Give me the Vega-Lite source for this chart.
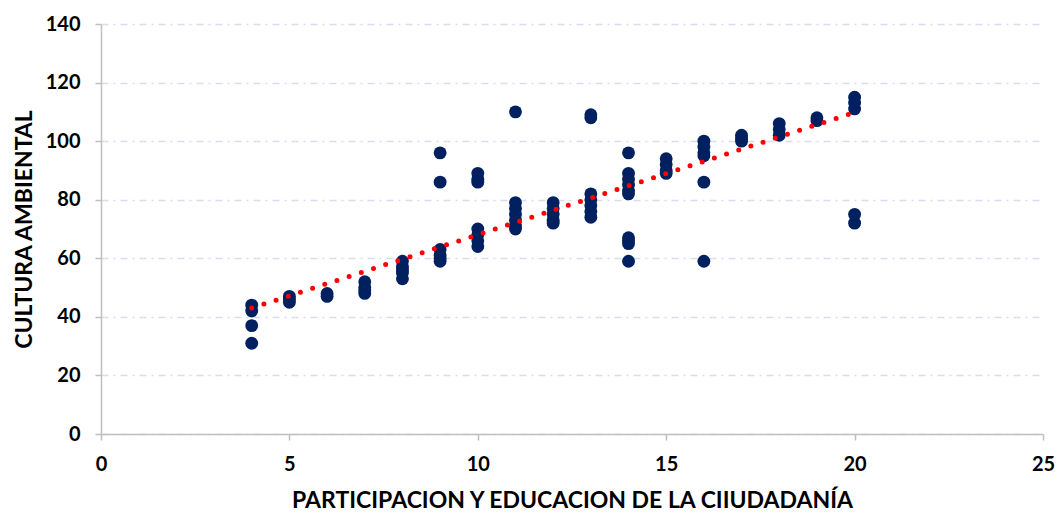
{
  "$schema": "https://vega.github.io/schema/vega-lite/v6.json",
  "width": 942,
  "height": 410,
  "autosize": {"type": "none"},
  "padding": {"left": 101, "top": 24, "right": 14, "bottom": 79},
  "background": "white",
  "config": {"view": {"stroke": null}, "font": "Lato"},
  "datasets": {
    "pts": [
      {"p": 4, "c": 44}, {"p": 4, "c": 42}, {"p": 4, "c": 37}, {"p": 4, "c": 31},
      {"p": 5, "c": 47}, {"p": 5, "c": 46}, {"p": 5, "c": 45},
      {"p": 6, "c": 48}, {"p": 6, "c": 47},
      {"p": 7, "c": 52}, {"p": 7, "c": 50}, {"p": 7, "c": 49}, {"p": 7, "c": 48},
      {"p": 8, "c": 59}, {"p": 8, "c": 57}, {"p": 8, "c": 56}, {"p": 8, "c": 55}, {"p": 8, "c": 53},
      {"p": 9, "c": 63}, {"p": 9, "c": 61}, {"p": 9, "c": 60}, {"p": 9, "c": 59}, {"p": 9, "c": 86}, {"p": 9, "c": 96},
      {"p": 10, "c": 89}, {"p": 10, "c": 87}, {"p": 10, "c": 86}, {"p": 10, "c": 70}, {"p": 10, "c": 68}, {"p": 10, "c": 66}, {"p": 10, "c": 64},
      {"p": 11, "c": 110}, {"p": 11, "c": 79}, {"p": 11, "c": 77}, {"p": 11, "c": 75}, {"p": 11, "c": 73}, {"p": 11, "c": 71}, {"p": 11, "c": 70},
      {"p": 12, "c": 79}, {"p": 12, "c": 77}, {"p": 12, "c": 75}, {"p": 12, "c": 73}, {"p": 12, "c": 72},
      {"p": 13, "c": 109}, {"p": 13, "c": 108}, {"p": 13, "c": 82}, {"p": 13, "c": 80}, {"p": 13, "c": 78}, {"p": 13, "c": 76}, {"p": 13, "c": 74},
      {"p": 14, "c": 96}, {"p": 14, "c": 89}, {"p": 14, "c": 87}, {"p": 14, "c": 85}, {"p": 14, "c": 83}, {"p": 14, "c": 82}, {"p": 14, "c": 67}, {"p": 14, "c": 66}, {"p": 14, "c": 65}, {"p": 14, "c": 59},
      {"p": 15, "c": 94}, {"p": 15, "c": 92}, {"p": 15, "c": 90}, {"p": 15, "c": 89},
      {"p": 16, "c": 100}, {"p": 16, "c": 98}, {"p": 16, "c": 96}, {"p": 16, "c": 95}, {"p": 16, "c": 86}, {"p": 16, "c": 59},
      {"p": 17, "c": 102}, {"p": 17, "c": 101}, {"p": 17, "c": 100},
      {"p": 18, "c": 106}, {"p": 18, "c": 104}, {"p": 18, "c": 102},
      {"p": 19, "c": 108}, {"p": 19, "c": 107},
      {"p": 20, "c": 115}, {"p": 20, "c": 113}, {"p": 20, "c": 111}, {"p": 20, "c": 75}, {"p": 20, "c": 72}
    ],
    "trend": [
      {"p": 4, "c": 43.0},
      {"p": 20, "c": 109.8}
    ]
  },
  "encoding": {
    "x": {
      "field": "p", "type": "quantitative",
      "scale": {"domain": [0, 25], "nice": false, "zero": true},
      "axis": {
        "title": "PARTICIPACION Y EDUCACION DE LA CIIUDADANÍA",
        "values": [0, 5, 10, 15, 20, 25],
        "grid": false,
        "domainColor": "#BFBFBF", "domainWidth": 1.5,
        "tickColor": "#BFBFBF", "tickSize": 6, "tickWidth": 1.5,
        "labelFont": "Lato", "labelFontSize": 20, "labelFontWeight": "bold", "labelColor": "#000000",
        "labelPadding": 14, "labelFlush": false,
        "titleFont": "Lato", "titleFontSize": 23, "titleFontWeight": "bold", "titleColor": "#000000",
        "titlePadding": 15
      }
    },
    "y": {
      "field": "c", "type": "quantitative",
      "scale": {"domain": [0, 140], "nice": false},
      "axis": {
        "title": "CULTURA AMBIENTAL",
        "values": [0, 20, 40, 60, 80, 100, 120, 140],
        "grid": true, "gridColor": "#D6DDF0", "gridWidth": 1.5, "gridDash": [7, 5, 2, 5],
        "domainColor": "#BFBFBF", "domainWidth": 1.5,
        "tickColor": "#BFBFBF", "tickSize": 6, "tickWidth": 1.5,
        "labelFont": "Lato", "labelFontSize": 20, "labelFontWeight": "bold", "labelColor": "#000000",
        "labelPadding": 15, "labelFlush": false,
        "titleFont": "Lato", "titleFontSize": 23, "titleFontWeight": "bold", "titleColor": "#000000",
        "titlePadding": 9
      }
    }
  },
  "layer": [
    {
      "data": {"name": "pts"},
      "mark": {"type": "circle", "size": 165, "color": "#002060", "opacity": 1}
    },
    {
      "data": {"name": "trend"},
      "mark": {"type": "line", "color": "#FF0000", "strokeWidth": 5, "strokeDash": [0, 12.8], "strokeCap": "round"},
      "encoding": {}
    }
  ]
}
